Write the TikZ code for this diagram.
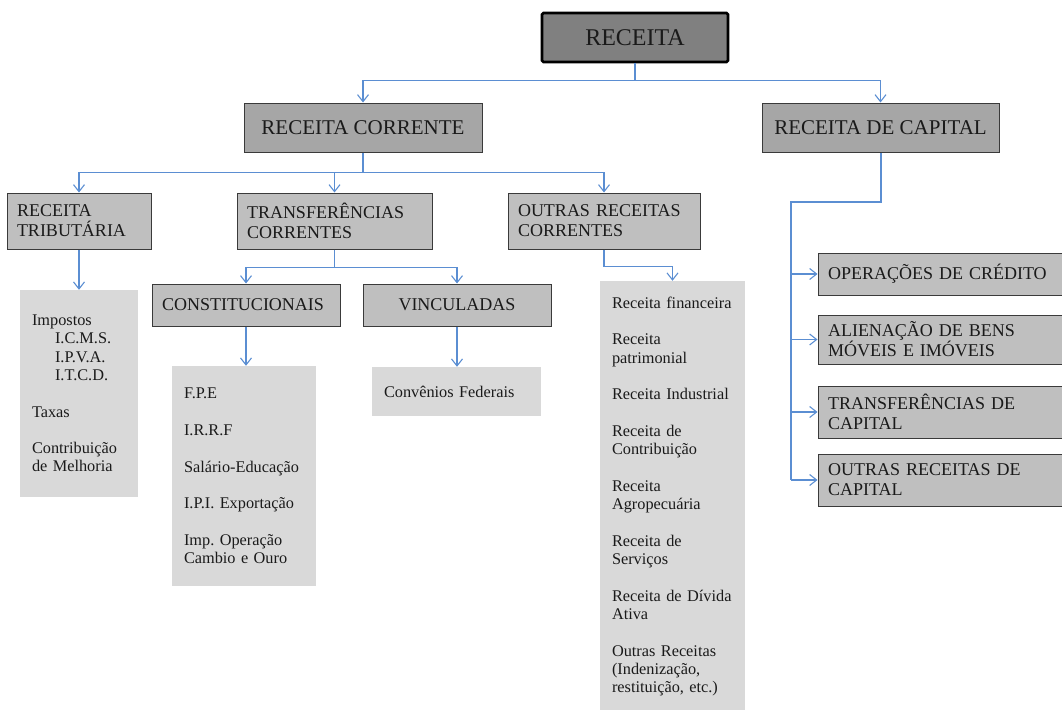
\documentclass[tikz,border=0pt]{standalone}
\usepackage{fontspec}
\setmainfont{Liberation Serif}
\usetikzlibrary{arrows.meta}
\definecolor{czero}{HTML}{808080}
\definecolor{cone}{HTML}{A6A6A6}
\definecolor{ctwo}{HTML}{BFBFBF}
\definecolor{cleaf}{HTML}{D9D9D9}
\definecolor{cbd}{HTML}{3A3A3A}
\definecolor{carr}{RGB}{91,142,210}
\definecolor{ctxt}{HTML}{1A1A1A}
\tikzset{
  topbox/.style={draw=black, line width=2.6pt, fill=czero, rounded corners=1.5pt,
    minimum width=186pt, minimum height=49pt, text=ctxt, font=\fontsize{24}{26}\selectfont},
  onebox/.style={draw=cbd, line width=1pt, fill=cone, minimum height=49pt, inner sep=0pt,
    align=center, text=ctxt, font=\fontsize{21}{23}\selectfont},
  twobox/.style={draw=cbd, line width=1pt, fill=ctwo, inner xsep=10pt, inner ysep=0pt,
    align=left, text=ctxt, font=\fontsize{18}{20}\selectfont},
  leafbox/.style={fill=cleaf, inner xsep=12pt, inner ysep=0pt, align=left, text=ctxt,
    font=\fontsize{16.3}{18.3}\selectfont},
  conn/.style={draw=carr, line width=1.1pt},
  arr/.style={conn, -{Straight Barb[length=7pt,width=11pt]}},
  trunk/.style={draw=carr, line width=2pt},
}
\begin{document}
\begin{tikzpicture}[x=1pt,y=-1pt]
\useasboundingbox (0,0) rectangle (1062,709);
% level 0
\node[topbox] (r) at (635,37.5) {RECEITA};
% level 1
\node[onebox, minimum width=238pt] (rc) at (363,127.5) {RECEITA CORRENTE};
\node[onebox, minimum width=237pt] (rdc) at (880.5,127.5) {RECEITA DE CAPITAL};
% level 2
\node[twobox, text width=124pt, minimum height=56pt] (rt) at (79,221) {RECEITA\\TRIBUTÁRIA};
\node[twobox, text width=175pt, minimum height=56pt] (tc) at (334.5,221) {TRANSFERÊNCIAS\\CORRENTES};
\node[twobox, text width=172pt, minimum height=56pt] (orc) at (604,221) {OUTRAS~RECEITAS\\CORRENTES};
% level 3
\node[twobox, text width=168pt, minimum height=42pt] (cons) at (246,305) {CONSTITUCIONAIS};
\node[twobox, text width=168pt, minimum height=42pt, align=center] (vinc) at (457,305) {VINCULADAS};
% leaves
\node[leafbox, text width=94pt, minimum height=207pt] (imp) at (79,393.5)
  {Impostos\\
   \hspace*{23pt}I.C.M.S.\\
   \hspace*{23pt}I.P.V.A.\\
   \hspace*{23pt}I.T.C.D.\\[18.3pt]
   Taxas\\[18.3pt]
   Contribuição\\
   de~Melhoria};
\node[leafbox, text width=120pt, minimum height=220pt] (fpe) at (244,476)
  {F.P.E\\[18.3pt]
   I.R.R.F\\[18.3pt]
   Salário-Educação\\[18.3pt]
   I.P.I.~Exportação\\[18.3pt]
   Imp.~Operação\\
   Cambio~e~Ouro};
\node[leafbox, text width=145pt, minimum height=49pt] (conv) at (456.5,391.5) {Convênios~Federais};
\node[leafbox, text width=121pt, minimum height=431pt] (olist) at (672.5,496.5)
  {Receita~financeira\\[18.3pt]
   Receita\\
   patrimonial\\[18.3pt]
   Receita~Industrial\\[18.3pt]
   Receita~de\\
   Contribuição\\[18.3pt]
   Receita\\
   Agropecuária\\[18.3pt]
   Receita~de\\
   Serviços\\[18.3pt]
   Receita~de~Dívida\\
   Ativa\\[18.3pt]
   Outras~Receitas\\
   (Indenização,\\
   restituição,~etc.)};
% capital boxes
\node[twobox, text width=232pt, minimum height=42pt] (op) at (944,274) {OPERAÇÕES DE CRÉDITO};
\node[twobox, text width=232pt, minimum height=49pt] (al) at (944,339.5) {ALIENAÇÃO DE BENS\\MÓVEIS E IMÓVEIS};
\node[twobox, text width=232pt, minimum height=52pt] (trc) at (944,412) {TRANSFERÊNCIAS DE\\CAPITAL};
\node[twobox, text width=232pt, minimum height=52pt] (ork) at (944,480) {OUTRAS RECEITAS DE\\CAPITAL};
% connectors
\draw[conn] (r.south) -- ++(0,17) coordinate (j0);
\draw[arr] (j0) -| (rc.north);
\draw[arr] (j0) -| (rdc.north);
\draw[conn] (rc.south) -- ++(0,20) coordinate (j1);
\draw[arr] (j1) -| (rt.north);
\draw[arr] (j1) -| (tc.north);
\draw[arr] (j1) -| (orc.north);
\draw[conn] (tc.south) -- ++(0,18) coordinate (j2);
\draw[arr] (j2) -| (cons.north);
\draw[arr] (j2) -| (vinc.north);
\draw[conn] (orc.south) -- ++(0,17) coordinate (j3);
\draw[arr] (j3) -| (olist.north);
\draw[arr] (rt.south) -- (imp.north);
\draw[arr] (cons.south) -- (cons.south |- fpe.north);
\draw[arr] (vinc.south) -- (vinc.south |- conv.north);
\coordinate (jc) at (791,202);
\draw[trunk] (rdc.south) |- (jc) -- (jc |- ork.west);
\draw[arr] (jc |- op.west) -- (op.west);
\draw[arr] (jc |- al.west) -- (al.west);
\draw[arr] (jc |- trc.west) -- (trc.west);
\draw[arr] (jc |- ork.west) -- (ork.west);
\end{tikzpicture}
\end{document}
